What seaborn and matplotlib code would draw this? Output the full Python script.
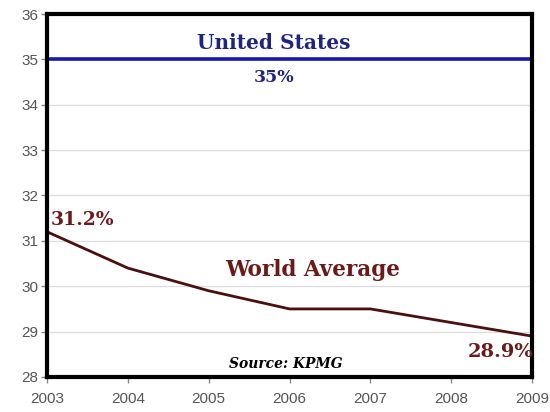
import seaborn as sns
import matplotlib.pyplot as plt
import pandas as pd

years = [2003, 2004, 2005, 2006, 2007, 2008, 2009]
world_avg = [31.2, 30.4, 29.9, 29.5, 29.5, 29.2, 28.9]
united_states = [35, 35, 35, 35, 35, 35, 35]

df = pd.DataFrame({"year": years, "World Average": world_avg, "United States": united_states})

sns.set_style("white")
plt.rcParams['font.family'] = ['Liberation Sans', 'DejaVu Sans']

fig = plt.figure(figsize=(5.5, 4.12), dpi=100)
ax = fig.add_axes([0.0855, 0.085, 0.882, 0.881])

sns.lineplot(data=df, x="year", y="United States", ax=ax, color="#1818b0", linewidth=2.6)
sns.lineplot(data=df, x="year", y="World Average", ax=ax, color="#4a1010", linewidth=2)

ax.set_xlim(2003, 2009)
ax.set_ylim(28, 36)
ax.set_xticks(years)
ax.set_yticks(range(28, 37))
ax.set_xlabel("")
ax.set_ylabel("")
ax.grid(axis='y', color="#dddddd", linewidth=0.9)
ax.set_axisbelow(True)

for s in ax.spines.values():
    s.set_color("black")
    s.set_linewidth(3)

ax.tick_params(axis='both', which='both', direction='out', length=4, width=1,
               color="#888888", labelcolor="#555555", labelsize=11, pad=2,
               bottom=True, left=True)
ax.tick_params(axis='x', pad=7)

serif = dict(family="DejaVu Serif", fontweight="bold")
ax.text(2005.81, 35.35, "United States", color="#1f2480", fontsize=14.5, ha="center", va="center", **serif)
ax.text(2005.81, 34.6, "35%", color="#1f2480", fontsize=12.5, ha="center", va="center", **serif)
ax.text(2003.04, 31.45, "31.2%", color="#6b1a1a", fontsize=13.5, ha="left", va="center", **serif)
ax.text(2006.28, 30.35, "World Average", color="#6b1a1a", fontsize=15.5, ha="center", va="center", **serif)
ax.text(2009.02, 28.55, "28.9%", color="#6b1a1a", fontsize=14, ha="right", va="center", **serif)
ax.text(2005.95, 28.28, "Source: KPMG", color="black", fontsize=10, ha="center", va="center",
        family="DejaVu Serif", fontweight="bold", fontstyle="italic")

plt.savefig("out.png", dpi=100)
